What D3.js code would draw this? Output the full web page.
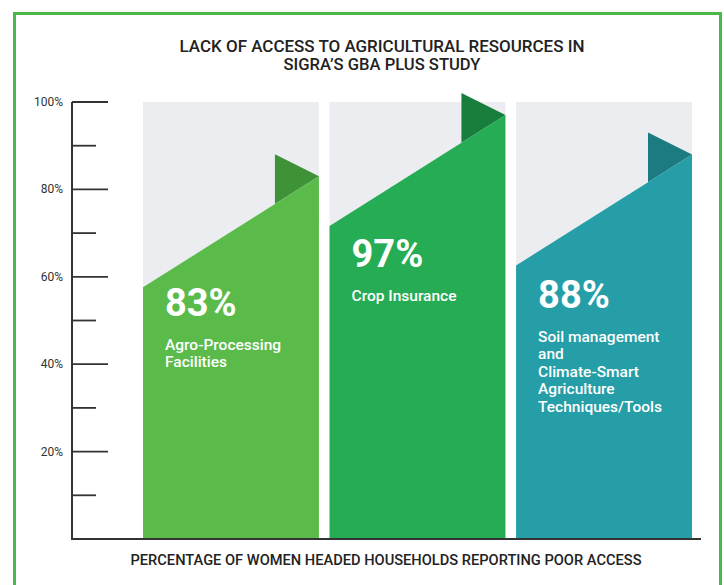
<!DOCTYPE html>
<html>
<head>
<meta charset="utf-8">
<script src="https://cdn.jsdelivr.net/npm/d3@7"></script>
<style>
  html, body { margin: 0; padding: 0; background: #fff; }
  svg { display: block; font-family: Roboto, "Noto Sans", sans-serif; }
</style>
</head>
<body>
<svg id="chart" width="724" height="585"></svg>
<script>
// Resource categories and the share of women-headed households reporting poor access
const categories = ["Agro-Processing Facilities", "Crop Insurance", "Soil management and Climate-Smart Agriculture Techniques/Tools"];
const labelLines = [
  ["Agro-Processing", "Facilities"],
  ["Crop Insurance"],
  ["Soil management", "and", "Climate-Smart", "Agriculture", "Techniques/Tools"]
];
const values = [83, 97, 88];
const majorTicks = [20, 40, 60, 80, 100];
const minorTicks = [10, 30, 50, 70, 90];
const tickLabels = ["20%", "40%", "60%", "80%", "100%"];
const titleLines = ["LACK OF ACCESS TO AGRICULTURAL RESOURCES IN", "SIGRA\u2019S GBA PLUS STUDY"];
const axisTitle = "PERCENTAGE OF WOMEN HEADED HOUSEHOLDS REPORTING POOR ACCESS";

const barColors = ["#5aba4a", "#25ac54", "#259ea7"];
const flagColors = ["#3e9238", "#177e3b", "#1b7b81"];

const svg = d3.select("#chart");

// Frame
svg.append("path")
  .attr("d", "M14.5,590 V13.5 H720.5 V590")
  .attr("fill", "none")
  .attr("stroke", "#4cb84a")
  .attr("stroke-width", 3);

// Title
svg.append("g").selectAll("text")
  .data(titleLines)
  .join("text")
  .attr("x", 382)
  .attr("y", (d, i) => 52 + i * 17.5)
  .attr("text-anchor", "middle")
  .attr("font-size", 16.5)
  .attr("font-weight", 500)
  .attr("fill", "#222")
  .attr("textLength", (d, i) => i === 0 ? 405 : 197)
  .attr("lengthAdjust", "spacingAndGlyphs")
  .text(d => d);

// Scales
const y = d3.scaleLinear().domain([0, 100]).range([539, 102]);
const x = d3.scaleBand().domain(categories).range([143, 692]).paddingInner(0.057).paddingOuter(0);
const bw = x.bandwidth();

const foldDrop = 111;   // vertical drop of the slanted top edge across a bar
const flagW = 44, flagH = 22;

// Grey full-scale backgrounds
svg.append("g").selectAll("rect")
  .data(categories)
  .join("rect")
  .attr("x", d => x(d))
  .attr("y", y(100))
  .attr("width", bw)
  .attr("height", y(0) - y(100))
  .attr("fill", "#ecedf0");

const bars = svg.append("g").selectAll("g")
  .data(categories.map((c, i) => ({ c, v: values[i], i })))
  .join("g");

// Folded flag tip behind the bar top
bars.append("path")
  .attr("d", d => {
    const x1 = x(d.c) + bw, ty = y(d.v);
    const fx = x1 - flagW;
    const slantAtFx = ty + foldDrop * (flagW / bw);
    return `M${fx},${ty - flagH} L${x1},${ty} L${fx},${slantAtFx} Z`;
  })
  .attr("fill", d => flagColors[d.i]);

// Bar body with slanted top
bars.append("path")
  .attr("d", d => {
    const x0 = x(d.c), x1 = x0 + bw, ty = y(d.v);
    return `M${x0},${y(0)} L${x0},${ty + foldDrop} L${x1},${ty} L${x1},${y(0)} Z`;
  })
  .attr("fill", d => barColors[d.i]);

// Value labels and category names
const numOffset = [29, 41, 43];
bars.append("text")
  .attr("x", d => x(d.c) + 22)
  .attr("y", d => y(d.v) + foldDrop + numOffset[d.i])
  .attr("font-size", 38)
  .attr("font-weight", 700)
  .attr("fill", "#fff")
  .text(d => d.v + "%");

bars.each(function(d) {
  const g = d3.select(this);
  const base = y(d.v) + foldDrop + numOffset[d.i] + 33.5;
  g.append("text")
    .attr("font-size", 15.5)
    .attr("font-weight", 500)
    .attr("fill", "#fff")
    .selectAll("tspan")
    .data(labelLines[d.i])
    .join("tspan")
    .attr("x", x(d.c) + 22)
    .attr("y", (t, j) => base + j * 17.5)
    .text(t => t);
});

// Axis line, ticks and baseline
const axisX = 72;
svg.append("line")
  .attr("x1", axisX).attr("x2", axisX)
  .attr("y1", y(100)).attr("y2", y(0) + 1)
  .attr("stroke", "#333").attr("stroke-width", 2);

svg.append("g").selectAll("line.major")
  .data(majorTicks)
  .join("line")
  .attr("x1", axisX).attr("x2", axisX + 36)
  .attr("y1", d => y(d)).attr("y2", d => y(d))
  .attr("stroke", "#333").attr("stroke-width", 1.8);

svg.append("g").selectAll("line.minor")
  .data(minorTicks)
  .join("line")
  .attr("x1", axisX).attr("x2", axisX + 24)
  .attr("y1", d => y(d)).attr("y2", d => y(d))
  .attr("stroke", "#333").attr("stroke-width", 1.8);

svg.append("g").selectAll("text")
  .data(majorTicks)
  .join("text")
  .attr("x", 63)
  .attr("y", d => y(d) + 4)
  .attr("text-anchor", "end")
  .attr("font-size", 12)
  .attr("fill", "#333")
  .text((d, i) => tickLabels[i]);

svg.append("line")
  .attr("x1", axisX - 1).attr("x2", 701)
  .attr("y1", y(0)).attr("y2", y(0))
  .attr("stroke", "#333").attr("stroke-width", 2);

// Axis title
svg.append("text")
  .attr("x", 386)
  .attr("y", 565)
  .attr("text-anchor", "middle")
  .attr("font-size", 15)
  .attr("font-weight", 500)
  .attr("fill", "#222")
  .attr("textLength", 511)
  .attr("lengthAdjust", "spacingAndGlyphs")
  .text(axisTitle);
</script>
</body>
</html>
